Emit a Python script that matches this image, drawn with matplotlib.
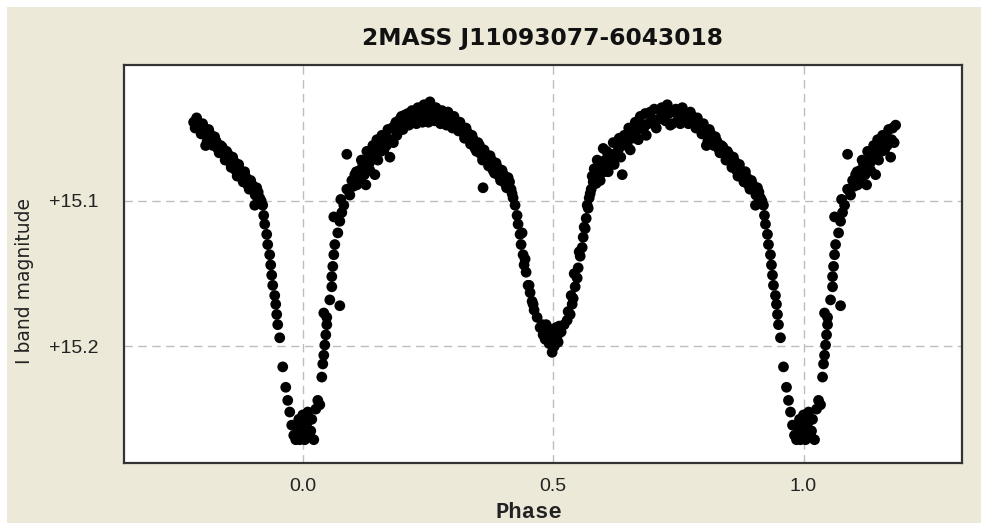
import matplotlib
matplotlib.use("Agg")
import matplotlib.pyplot as plt
from matplotlib.patches import Rectangle
import numpy as np

# One folded cycle of the I-band light curve (phase, magnitude)
phase = [
    0.000, 0.000, 0.004, 0.008, 0.010, 0.014, 0.018, 0.022, 0.026, 0.030,
    0.034, 0.038, 0.040, 0.042, 0.044, 0.046, 0.048, 0.042, 0.048, 0.054,
    0.074, 0.058, 0.058, 0.060, 0.062, 0.064, 0.070, 0.062, 0.074, 0.078,
    0.076, 0.082, 0.088, 0.094, 0.088, 0.098, 0.104, 0.108, 0.114, 0.120,
    0.126, 0.130, 0.134, 0.138, 0.144, 0.148, 0.150, 0.158, 0.162, 0.170,
    0.174, 0.176, 0.184, 0.188, 0.194, 0.200, 0.204, 0.212, 0.218, 0.224,
    0.230, 0.236, 0.242, 0.248, 0.254, 0.260, 0.266, 0.272, 0.278, 0.284,
    0.290, 0.296, 0.302, 0.308, 0.314, 0.320, 0.326, 0.332, 0.338, 0.344,
    0.350, 0.356, 0.360, 0.362, 0.368, 0.374, 0.380, 0.386, 0.392, 0.398,
    0.404, 0.410, 0.416, 0.420, 0.424, 0.428, 0.430, 0.434, 0.436, 0.440,
    0.442, 0.446, 0.450, 0.454, 0.458, 0.462, 0.468, 0.474, 0.480, 0.486,
    0.490, 0.494, 0.498, 0.500, 0.506, 0.510, 0.516, 0.522, 0.528, 0.534,
    0.538, 0.540, 0.544, 0.548, 0.550, 0.554, 0.558, 0.560, 0.564, 0.566,
    0.570, 0.572, 0.576, 0.580, 0.584, 0.590, 0.594, 0.600, 0.604, 0.610,
    0.616, 0.622, 0.630, 0.638, 0.638, 0.646, 0.654, 0.662, 0.670, 0.678,
    0.686, 0.694, 0.698, 0.706, 0.714, 0.720, 0.728, 0.734, 0.742, 0.750,
    0.758, 0.766, 0.774, 0.782, 0.788, 0.794, 0.800, 0.806, 0.806, 0.812,
    0.818, 0.824, 0.830, 0.836, 0.842, 0.848, 0.854, 0.860, 0.866, 0.872,
    0.878, 0.884, 0.890, 0.896, 0.902, 0.904, 0.908, 0.914, 0.920, 0.922,
    0.924, 0.928, 0.930, 0.934, 0.936, 0.938, 0.940, 0.944, 0.946, 0.948,
    0.950, 0.954, 0.960, 0.966, 0.970, 0.974, 0.978, 0.982, 0.986, 0.990,
    0.994, 0.998,
    # second night, first maximum
    0.101, 0.107, 0.112, 0.117, 0.123, 0.128, 0.133, 0.140, 0.146, 0.152,
    0.156, 0.164, 0.167, 0.172, 0.178, 0.181, 0.186, 0.191, 0.197, 0.202,
    0.207, 0.210, 0.215, 0.221, 0.227, 0.233, 0.239, 0.245, 0.251, 0.257,
    0.263, 0.269, 0.275, 0.281, 0.287, 0.293, 0.299, 0.305, 0.311, 0.317,
    0.323, 0.329, 0.335, 0.341, 0.347, 0.353, 0.359, 0.365, 0.371, 0.377,
    0.383, 0.389, 0.395, 0.401, 0.407, 0.413, 0.418,
    # second night, secondary eclipse
    0.438, 0.444, 0.452, 0.460, 0.478, 0.484, 0.488, 0.492, 0.496, 0.502,
    0.504, 0.508, 0.512, 0.530, 0.536, 0.542, 0.552, 0.562, 0.568, 0.574,
    0.578, 0.582, 0.586, 0.588,
    # second night, second maximum
    0.596, 0.602, 0.607, 0.612, 0.618, 0.620, 0.626, 0.632, 0.635, 0.642,
    0.648, 0.651, 0.658, 0.664, 0.667, 0.674, 0.681, 0.684, 0.690, 0.702,
    0.710, 0.717, 0.724, 0.731, 0.738, 0.745, 0.754, 0.762, 0.770, 0.778,
    0.785, 0.791, 0.797, 0.803, 0.809, 0.815, 0.821, 0.827, 0.833, 0.839,
    0.845, 0.851, 0.857, 0.863, 0.869, 0.875, 0.881, 0.887, 0.893, 0.899,
    0.905, 0.911, 0.917,
    # second night, primary minimum
    0.992, 0.006, 0.016,
]
magnitude = [
    15.257, 15.247, 15.264, 15.253, 15.245, 15.261, 15.250, 15.264, 15.243, 15.237,
    15.240, 15.221, 15.212, 15.206, 15.199, 15.192, 15.185, 15.177, 15.180, 15.168,
    15.172, 15.159, 15.152, 15.145, 15.137, 15.130, 15.122, 15.111, 15.114, 15.108,
    15.099, 15.103, 15.092, 15.096, 15.068, 15.086, 15.082, 15.089, 15.079, 15.075,
    15.089, 15.072, 15.079, 15.066, 15.082, 15.058, 15.072, 15.055, 15.065, 15.051,
    15.070, 15.058, 15.048, 15.055, 15.044, 15.051, 15.041, 15.048, 15.038, 15.044,
    15.036, 15.043, 15.034, 15.041, 15.032, 15.039, 15.036, 15.043, 15.038, 15.044,
    15.039, 15.047, 15.042, 15.049, 15.046, 15.053, 15.050, 15.058, 15.055, 15.064,
    15.060, 15.068, 15.091, 15.065, 15.072, 15.069, 15.079, 15.074, 15.083, 15.079,
    15.088, 15.084, 15.092, 15.098, 15.103, 15.110, 15.116, 15.123, 15.130, 15.137,
    15.144, 15.149, 15.158, 15.163, 15.169, 15.175, 15.180, 15.187, 15.192, 15.185,
    15.195, 15.188, 15.204, 15.194, 15.187, 15.197, 15.190, 15.185, 15.182, 15.178,
    15.171, 15.167, 15.159, 15.153, 15.146, 15.138, 15.132, 15.125, 15.119, 15.112,
    15.105, 15.098, 15.092, 15.087, 15.082, 15.077, 15.086, 15.064, 15.072, 15.080,
    15.068, 15.075, 15.065, 15.082, 15.062, 15.058, 15.065, 15.053, 15.058, 15.048,
    15.055, 15.039, 15.044, 15.050, 15.038, 15.043, 15.034, 15.048, 15.039, 15.044,
    15.036, 15.042, 15.039, 15.046, 15.043, 15.050, 15.047, 15.062, 15.054, 15.051,
    15.058, 15.056, 15.064, 15.062, 15.068, 15.066, 15.073, 15.070, 15.079, 15.075,
    15.084, 15.080, 15.089, 15.086, 15.092, 15.103, 15.091, 15.098, 15.103, 15.110,
    15.116, 15.123, 15.130, 15.137, 15.144, 15.151, 15.158, 15.165, 15.171, 15.178,
    15.185, 15.194, 15.214, 15.228, 15.237, 15.245, 15.254, 15.261, 15.264, 15.256,
    15.264, 15.261,
    # second night, first maximum
    15.090, 15.080, 15.085, 15.072, 15.082, 15.066, 15.074, 15.062, 15.070, 15.060,
    15.066, 15.056, 15.062, 15.058, 15.050, 15.060, 15.046, 15.052, 15.042, 15.048,
    15.045, 15.040, 15.046, 15.040, 15.047, 15.039, 15.046, 15.037, 15.046, 15.036,
    15.045, 15.039, 15.047, 15.040, 15.048, 15.043, 15.050, 15.045, 15.052, 15.049,
    15.057, 15.053, 15.061, 15.058, 15.066, 15.062, 15.072, 15.068, 15.076, 15.072,
    15.081, 15.077, 15.086, 15.082, 15.091, 15.087, 15.095,
    # second night, secondary eclipse
    15.122, 15.140, 15.158, 15.171, 15.185, 15.195, 15.190, 15.198, 15.192, 15.200,
    15.190, 15.193, 15.186, 15.176, 15.165, 15.150, 15.135, 15.118, 15.103, 15.095,
    15.083, 15.078, 15.088, 15.072,
    # second night, second maximum
    15.074, 15.080, 15.066, 15.075, 15.072, 15.060, 15.068, 15.057, 15.070, 15.055,
    15.062, 15.050, 15.057, 15.046, 15.052, 15.042, 15.050, 15.040, 15.047, 15.037,
    15.044, 15.036, 15.045, 15.040, 15.047, 15.037, 15.047, 15.040, 15.047, 15.042,
    15.050, 15.046, 15.054, 15.051, 15.059, 15.054, 15.062, 15.059, 15.067, 15.063,
    15.072, 15.068, 15.077, 15.073, 15.083, 15.079, 15.087, 15.084, 15.092, 15.089,
    15.096, 15.094, 15.100,
    # second night, primary minimum
    15.250, 15.262, 15.258,
]

title = "2MASS J11093077-6043018"
xlabel = "Phase"
ylabel = "I band magnitude"
xtick_values = [0.0, 0.5, 1.0]
xtick_labels = ["0.0", "0.5", "1.0"]
ytick_values = [15.1, 15.2]
ytick_labels = ["+15.1", "+15.2"]

# Phase window shown (cycle repeated on both sides)
shown_min, shown_max = -0.22, 1.185

p = np.asarray(phase)
m = np.asarray(magnitude)
px, pm = [], []
for shift in (-1.0, 0.0, 1.0):
    q = p + shift
    keep = (q >= shown_min) & (q <= shown_max)
    px.append(q[keep])
    pm.append(m[keep])
px = np.concatenate(px)
pm = np.concatenate(pm)

plt.rcParams["lines.scale_dashes"] = False

W, H = 981, 524
fig = plt.figure(figsize=(W / 100, H / 100), dpi=100)
fig.patch.set_facecolor("white")
fig.patches.append(Rectangle((7 / W, 1 / H), 1 - 7 / W, (H - 8) / H,
                             transform=fig.transFigure, facecolor="#ECE9D8",
                             edgecolor="none", zorder=-10))

left, right, top, bottom = 124, 962, 65, 463
ax = fig.add_axes([left / W, 1 - bottom / H, (right - left) / W, (bottom - top) / H])
ax.set_zorder(1)
ax.set_facecolor("white")

ax.set_xlim(-0.357, 1.3165)
ax.set_ylim(15.280, 15.0067)

for xv in xtick_values:
    ax.axvline(xv, color="#BDBDBD", lw=1.0, ls=(0, (6, 4)), zorder=1)
for yv in ytick_values:
    ax.axhline(yv, color="#BDBDBD", lw=1.0, ls=(0, (6, 4)), zorder=1)

ax.scatter(px, pm, s=60, c="black", edgecolors="none", zorder=3)

ax.set_xticks(xtick_values)
ax.set_xticklabels(xtick_labels)
ax.set_yticks(ytick_values)
ax.set_yticklabels(ytick_labels)
ax.tick_params(axis="both", length=0, labelsize=14, labelcolor="#222222")
ax.tick_params(axis="x", pad=11)
ax.tick_params(axis="y", pad=18)
for lab in ax.get_xticklabels() + ax.get_yticklabels():
    lab.set_fontfamily("Liberation Sans")

for sp in ax.spines.values():
    sp.set_color("#333333")
    sp.set_linewidth(1.6)

fig.text(543 / W, 1 - 38 / H, title, ha="center", va="center",
         fontsize=16.8, fontweight="bold", family="DejaVu Sans", color="#111111")
fig.text(529 / W, 1 - 513 / H, xlabel, ha="center", va="center",
         fontsize=16, fontweight="bold", family="Liberation Mono", color="#222222")
fig.text(25 / W, 1 - 281 / H, ylabel, ha="center", va="center", rotation=90,
         fontsize=13.5, family="DejaVu Sans", color="#222222")

fig.savefig("out.png", dpi=100)
